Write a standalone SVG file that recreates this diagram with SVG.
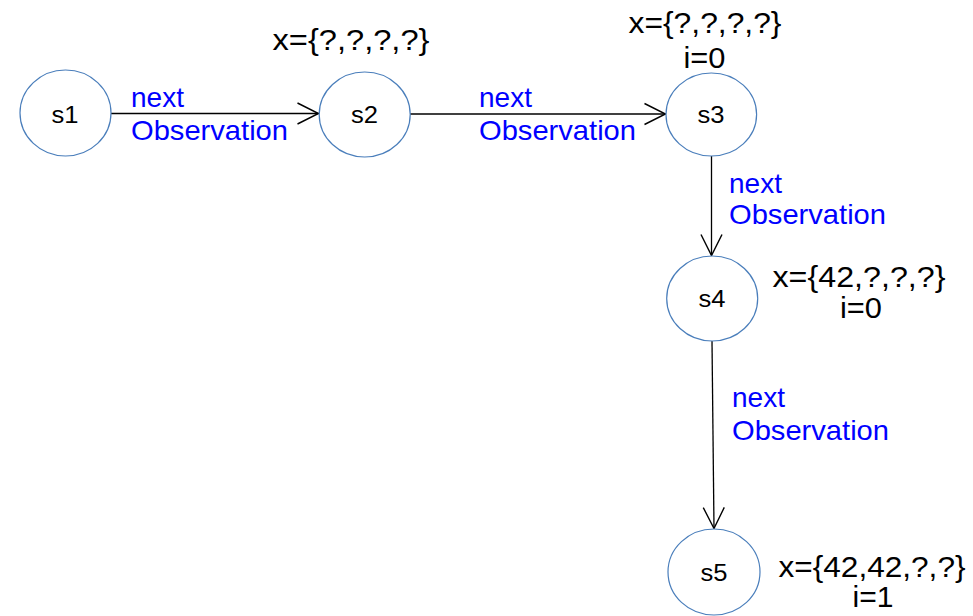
<svg xmlns="http://www.w3.org/2000/svg" width="973" height="616" viewBox="0 0 973 616">
<style>
.node ellipse{fill:#fff;stroke:#4a7ebb;stroke-width:1.2}
.nl{font-family:"Liberation Sans",Arial,sans-serif;font-size:24px;fill:#000;text-anchor:middle}
.st{font-family:"Liberation Sans",Arial,sans-serif;font-size:29px;fill:#000;text-anchor:middle}
.el{font-family:"Liberation Sans",Arial,sans-serif;font-size:28px;fill:#0000ff}
.edge{stroke:#000;stroke-width:1.3;fill:none;marker-end:url(#arr)}
</style>
<defs>
<marker id="arr" markerUnits="userSpaceOnUse" viewBox="-24 -13 26 26" refX="0" refY="0" markerWidth="26" markerHeight="26" orient="auto">
<path d="M-21,-10.5 L0,0 L-21,10.5" fill="none" stroke="#000" stroke-width="1.4"/>
</marker>
</defs>
<rect width="973" height="616" fill="#fff"/>
<g id="connectors">
<line class="edge" x1="111" y1="113.5" x2="318.5" y2="113.5"/>
<line class="edge" x1="410" y1="114" x2="665.5" y2="114"/>
<line class="edge" x1="711.5" y1="156" x2="711.5" y2="255.5"/>
<line class="edge" x1="712" y1="341" x2="714" y2="528.5"/>
<text class="el" x="131" y="107">next</text>
<text class="el" x="131" y="139.5" textLength="157" lengthAdjust="spacingAndGlyphs">Observation</text>
<text class="el" x="479" y="107">next</text>
<text class="el" x="479" y="139.5" textLength="157" lengthAdjust="spacingAndGlyphs">Observation</text>
<text class="el" x="729" y="193">next</text>
<text class="el" x="729" y="224" textLength="157" lengthAdjust="spacingAndGlyphs">Observation</text>
<text class="el" x="732" y="407">next</text>
<text class="el" x="732" y="440" textLength="157" lengthAdjust="spacingAndGlyphs">Observation</text>
</g>
<g id="s1" class="node">
<ellipse cx="65.5" cy="113" rx="45.5" ry="43"/>
<text class="nl" x="65" y="123" textLength="27" lengthAdjust="spacingAndGlyphs">s1</text>
</g>
<g id="s2" class="node">
<ellipse cx="364.7" cy="114.5" rx="45.5" ry="42.5"/>
<text class="nl" x="364.5" y="123" textLength="27" lengthAdjust="spacingAndGlyphs">s2</text>
<text class="st" x="351" y="50" textLength="157" lengthAdjust="spacingAndGlyphs">x={?,?,?,?}</text>
</g>
<g id="s3" class="node">
<ellipse cx="711.3" cy="114.5" rx="45.3" ry="41.5"/>
<text class="nl" x="711" y="123" textLength="27" lengthAdjust="spacingAndGlyphs">s3</text>
<text class="st" x="705" y="33" textLength="153" lengthAdjust="spacingAndGlyphs">x={?,?,?,?}</text>
<text class="st" x="704.5" y="68" textLength="42" lengthAdjust="spacingAndGlyphs">i=0</text>
</g>
<g id="s4" class="node">
<ellipse cx="712.2" cy="298.5" rx="45.5" ry="42.5"/>
<text class="nl" x="712" y="307" textLength="27" lengthAdjust="spacingAndGlyphs">s4</text>
<text class="st" x="859" y="287" textLength="173" lengthAdjust="spacingAndGlyphs">x={42,?,?,?}</text>
<text class="st" x="861" y="318" textLength="42" lengthAdjust="spacingAndGlyphs">i=0</text>
</g>
<g id="s5" class="node">
<ellipse cx="714" cy="572" rx="46" ry="43"/>
<text class="nl" x="714" y="581" textLength="27" lengthAdjust="spacingAndGlyphs">s5</text>
<text class="st" x="872" y="577" textLength="187" lengthAdjust="spacingAndGlyphs">x={42,42,?,?}</text>
<text class="st" x="873" y="607" textLength="41" lengthAdjust="spacingAndGlyphs">i=1</text>
</g>
</svg>
